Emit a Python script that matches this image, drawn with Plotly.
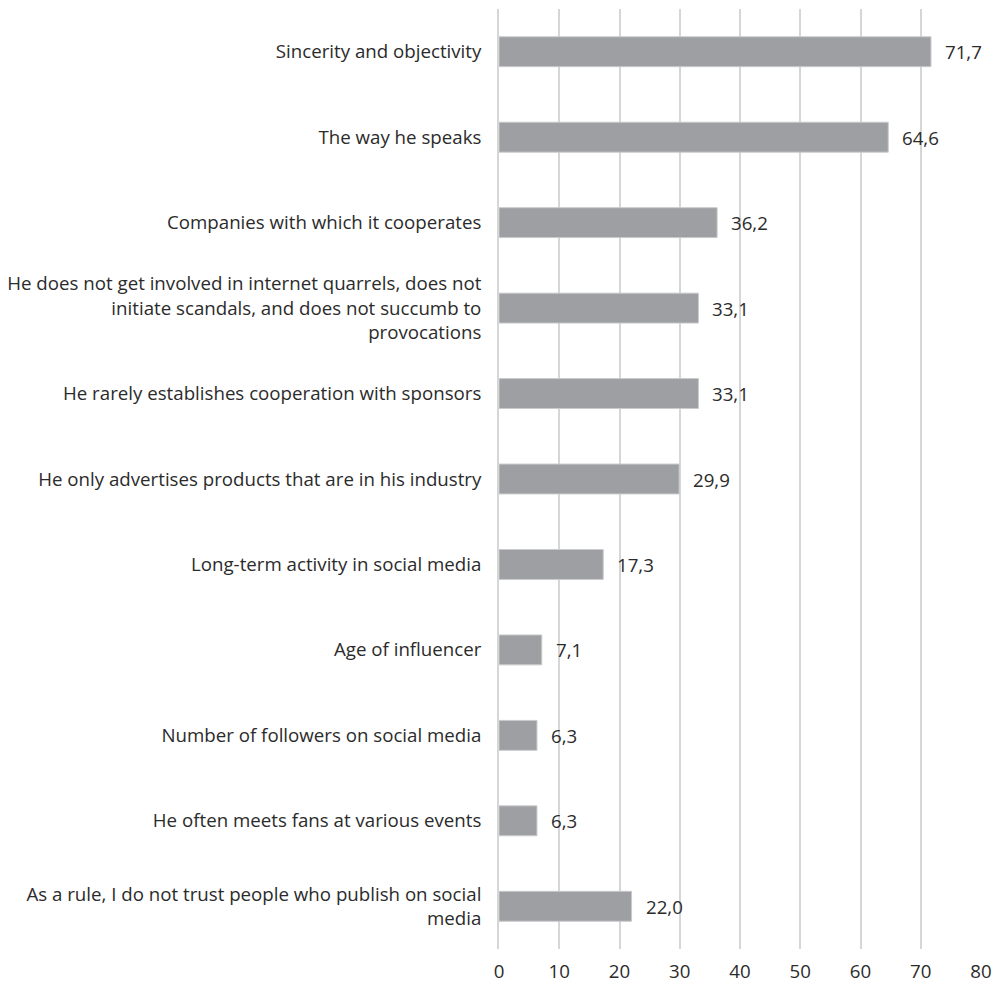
import plotly.graph_objects as go

# Factors of trust in an influencer, share of respondents (%)
categories = [
    "Sincerity and objectivity",
    "The way he speaks",
    "Companies with which it cooperates",
    "He does not get involved in internet quarrels, does not<br>initiate scandals, and does not succumb to<br>provocations",
    "He rarely establishes cooperation with sponsors",
    "He only advertises products that are in his industry",
    "Long-term activity in social media",
    "Age of influencer",
    "Number of followers on social media",
    "He often meets fans at various events",
    "As a rule, I do not trust people who publish on social<br>media",
]
values = [71.7, 64.6, 36.2, 33.1, 33.1, 29.9, 17.3, 7.1, 6.3, 6.3, 22.0]
x_ticks = [0, 10, 20, 30, 40, 50, 60, 70, 80]

FONT = "Open Sans"
TEXT_COLOR = "#2b2b2b"
SIZE = 18.7
GRID = "#d6d6d6"

fig = go.Figure(
    go.Bar(
        x=values,
        y=categories,
        orientation="h",
        marker=dict(color="#9d9fa3", line=dict(color="#c9cacc", width=1)),
        width=0.35,
        hoverinfo="skip",
    )
)

# value labels with a decimal comma, placed just right of each bar
for cat, v in zip(categories, values):
    fig.add_annotation(
        x=v, y=cat, xref="x", yref="y",
        text=f"{v:.1f}".replace(".", ","),
        showarrow=False, xanchor="left", yanchor="middle",
        xshift=12,
        font=dict(family=FONT, size=SIZE, color=TEXT_COLOR),
    )

fig.update_layout(
    width=997,
    height=985,
    margin=dict(l=499, r=16, t=9, b=36),
    paper_bgcolor="white",
    plot_bgcolor="white",
    showlegend=False,
    font=dict(family=FONT, size=SIZE, color=TEXT_COLOR),
)

fig.update_xaxes(
    range=[0, 80],
    tickvals=x_ticks,
    ticktext=[str(t) for t in x_ticks],
    showgrid=True,
    gridcolor=GRID,
    gridwidth=1.8,
    zeroline=False,
    showline=False,
    ticks="",
    automargin=False,
    ticklabelstandoff=9,
    tickfont=dict(family=FONT, size=SIZE, color=TEXT_COLOR),
)

fig.update_yaxes(
    categoryorder="array",
    categoryarray=categories[::-1],
    showgrid=False,
    showline=True,
    linecolor=GRID,
    linewidth=1.8,
    ticks="",
    automargin=False,
    ticklabelstandoff=12,
    tickfont=dict(family=FONT, size=SIZE, color=TEXT_COLOR),
)

fig.write_html("out.html")
